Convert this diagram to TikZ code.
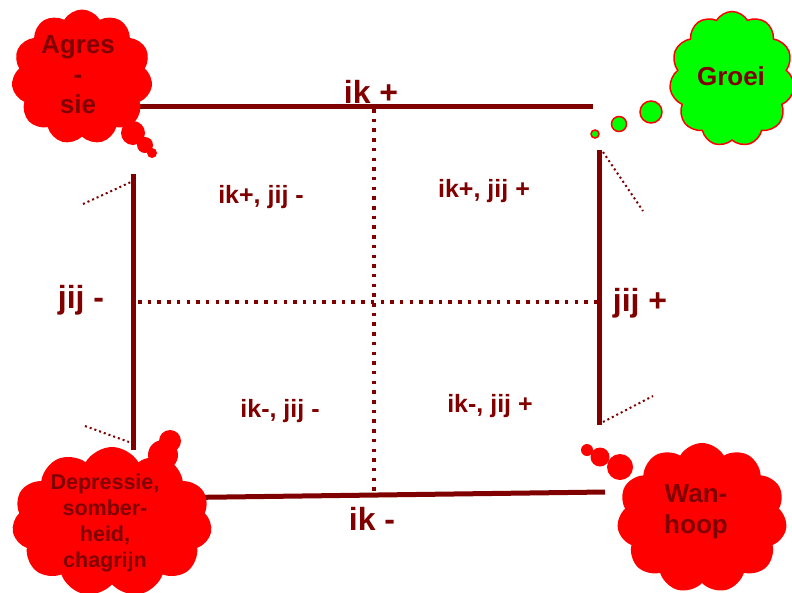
\documentclass[tikz,border=0pt]{standalone}
\usepackage{fontspec}
\setmainfont{Liberation Sans}
\usepackage{tikz}
\usetikzlibrary{shapes.symbols}
\definecolor{darkred}{HTML}{800000}
\definecolor{cloudred}{HTML}{FF0000}
\definecolor{growgreen}{HTML}{00FF00}

\begin{document}
\begin{tikzpicture}[
    x=1pt, y=-1pt,
    axis/.style={draw=darkred, line width=5pt},
    cross/.style={draw=darkred, line width=3.5pt, dash pattern=on 3.5pt off 6.2pt},
    hint/.style={draw=darkred, line width=2pt, dash pattern=on 2pt off 3pt},
    mood/.style={cloud, cloud puffs=11, cloud puff arc=120, aspect=1, fill=cloudred, inner sep=0pt},
    bubble/.style={circle, fill=cloudred, inner sep=0pt},
    growbubble/.style={circle, fill=growgreen, draw=cloudred, line width=1.5pt, inner sep=0pt},
    axislabel/.style={font=\fontsize{32}{36}\selectfont\bfseries, text=darkred, anchor=base, inner sep=0pt},
    quadlabel/.style={font=\fontsize{25}{28}\selectfont\bfseries, text=darkred, anchor=base, inner sep=0pt},
    moodtext/.style={font=\fontsize{26}{30}\selectfont\bfseries, text=darkred, align=center, anchor=base, inner sep=0pt},
  ]
    \clip (0,0) rectangle (792,592);
    \fill[white] (0,0) rectangle (792,592);

    \coordinate (tl) at (133,106);
    \coordinate (tr) at (593,106);
    \coordinate (bl) at (150,498);
    \coordinate (br) at (605,492);
    \coordinate (lt) at (133,174);
    \coordinate (lb) at (133,450);
    \coordinate (rt) at (599,150);
    \coordinate (rb) at (599,425);
    \coordinate (vt) at (374,109);
    \coordinate (vb) at (374,495);
    \coordinate (hl) at (138,302);
    \coordinate (hr) at (597,302);

    \draw[cross] (vt) -- (vb);
    \draw[cross] (hl) -- (hr);
    \draw[axis] (tl) -- (tr);
    \draw[axis] (bl) -- (br);
    \draw[axis] (lt) -- (lb);
    \draw[axis] (rt) -- (rb);

    \coordinate (ltout) at (83,204);
    \coordinate (ltin) at (131,182);
    \coordinate (lbout) at (85,426);
    \coordinate (lbin) at (129,442);
    \coordinate (rtin) at (603,152);
    \coordinate (rtout) at (643,211);
    \coordinate (rbin) at (603,422);
    \coordinate (rbout) at (653,396);
    \draw[hint] (ltout) -- (ltin);
    \draw[hint] (lbout) -- (lbin);
    \draw[hint] (rtin) -- (rtout);
    \draw[hint] (rbin) -- (rbout);

    \node[mood, minimum width=141pt, minimum height=135pt] (agres) at (82,77) {};
    \node[bubble, minimum size=24pt] (agres1) at (133,133) {};
    \node[bubble, minimum size=16pt] (agres2) at (145,145) {};
    \node[bubble, minimum size=10pt] (agres3) at (152,153) {};

    \node[mood, fill=growgreen, draw=cloudred, line width=1.5pt, minimum width=125pt, minimum height=135pt] (groei) at (732,79) {};
    \node[growbubble, minimum size=22pt] (groei1) at (651,112) {};
    \node[growbubble, minimum size=15pt] (groei2) at (619,124) {};
    \node[growbubble, minimum size=8pt] (groei3) at (595,134) {};

    \node[mood, minimum width=200pt, minimum height=150pt] (depressie) at (112,522) {};
    \node[bubble, minimum size=30pt] (depressie1) at (163,455) {};
    \node[bubble, minimum size=22pt] (depressie2) at (170,441) {};

    \node[mood, minimum width=170pt, minimum height=150pt] (wanhoop) at (702,518) {};
    \node[bubble, minimum size=26pt] (wanhoop1) at (620,467) {};
    \node[bubble, minimum size=19pt] (wanhoop2) at (600,457) {};
    \node[bubble, minimum size=12pt] (wanhoop3) at (587,450) {};

    \node[moodtext] (agrestext) at (78,113) {Agres\\-\\sie};
    \node[moodtext] (groeitext) at (731,85) {Groei};
    \node[moodtext, font=\fontsize{21.5}{26}\selectfont\bfseries] (depressietext) at (105,567) {Depressie,\\somber-\\heid,\\chagrijn};
    \node[moodtext, font=\fontsize{26}{31}\selectfont\bfseries] (wanhooptext) at (696,533) {Wan-\\hoop};

    \node[axislabel] (ikplus) at (371,103) {ik +};
    \node[axislabel] (ikmin) at (372,530) {ik -};
    \node[axislabel] (jijmin) at (81,308) {jij -};
    \node[axislabel] (jijplus) at (640,311) {jij +};

    \node[quadlabel] (q1) at (261,203) {ik+, jij -};
    \node[quadlabel] (q2) at (484,197) {ik+, jij +};
    \node[quadlabel] (q3) at (280,417) {ik-, jij -};
    \node[quadlabel] (q4) at (490,412) {ik-, jij +};
  \end{tikzpicture}
\end{document}
